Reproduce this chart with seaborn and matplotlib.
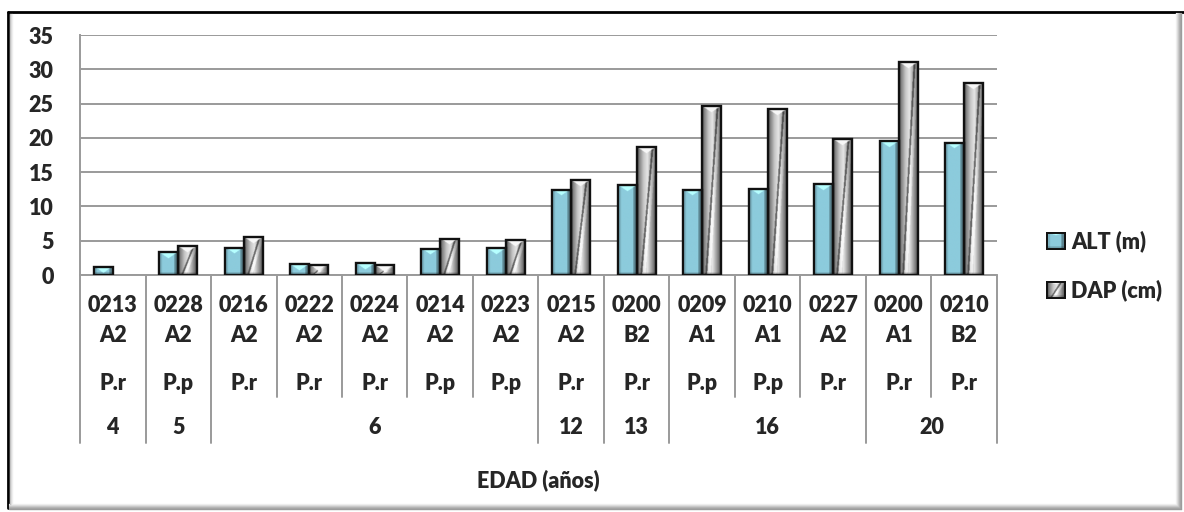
import numpy as np
import pandas as pd
import matplotlib
matplotlib.use("Agg")
import matplotlib.pyplot as plt
import seaborn as sns
from matplotlib.patches import Patch
from matplotlib.lines import Line2D

# --- data -------------------------------------------------------------
arbol = ["0213", "0228", "0216", "0222", "0224", "0214", "0223",
         "0215", "0200", "0209", "0210", "0227", "0200", "0210"]
clase = ["A2", "A2", "A2", "A2", "A2", "A2", "A2",
         "A2", "B2", "A1", "A1", "A2", "A1", "B2"]
especie = ["P.r", "P.p", "P.r", "P.r", "P.r", "P.p", "P.p",
           "P.r", "P.r", "P.p", "P.p", "P.r", "P.r", "P.r"]
edad_grupos = ["4", "5", "6", "12", "13", "16", "20"]
edad_n = [1, 1, 5, 1, 1, 3, 2]
alt_m = [1.2, 3.3, 4.0, 1.6, 1.7, 3.8, 3.9,
         12.4, 13.1, 12.4, 12.6, 13.2, 19.5, 19.3]
dap_cm = [np.nan, 4.2, 5.5, 1.5, 1.4, 5.3, 5.1,
          13.8, 18.6, 24.6, 24.2, 19.8, 31.0, 28.0]
series = ["ALT (m)", "DAP (cm)"]

claves = [f"{a}\n{c}" for a, c in zip(arbol, clase)]
df = pd.DataFrame({
    "clave": claves * 2,
    "serie": [series[0]] * len(claves) + [series[1]] * len(claves),
    "valor": alt_m + dap_cm,
}).dropna()

# --- style ------------------------------------------------------------
sns.set_theme(style="white")
plt.rcParams["font.family"] = ["Lato", "DejaVu Sans"]
FS = 15.5
FW = "heavy"
GRID = "#9a9a9a"

W_PX, H_PX = 1184, 512
fig = plt.figure(figsize=(W_PX / 100, H_PX / 100), dpi=100)
fig.patch.set_facecolor("white")
ax_left, ax_right, ax_top, ax_bot = 80, 997, 35, 275
ax = fig.add_axes([ax_left / W_PX, 1 - ax_bot / H_PX,
                   (ax_right - ax_left) / W_PX, (ax_bot - ax_top) / H_PX])

pal = {series[0]: "#8ccbdc", series[1]: "#9a9a9a"}
sns.barplot(data=df, x="clave", y="valor", hue="serie", order=claves,
            hue_order=series, palette=pal, width=0.58, gap=0,
            edgecolor="#111111", linewidth=1.7, legend=False, ax=ax)

ax.set_xlim(-0.5, len(claves) - 0.5)
ax.set_ylim(0, 35)
ax.set_yticks(range(0, 36, 5))
ax.set_yticklabels([str(v) for v in range(0, 36, 5)], fontsize=FS,
                   fontweight=FW)
ax.tick_params(axis="y", length=0, pad=19)
ax.set_xticks(range(len(claves)))
ax.set_xticklabels([])
ax.tick_params(axis="x", length=0)
ax.set_xlabel("")
ax.set_ylabel("")
ax.yaxis.grid(True, color=GRID, linewidth=1.4)
ax.set_axisbelow(True)
for s in ["top", "right", "bottom"]:
    ax.spines[s].set_visible(False)
ax.spines["left"].set_color(GRID)
ax.spines["left"].set_linewidth(1.4)

px_per_unit = (ax_bot - ax_top) / 35.0
bar_px = 0.29 * (ax_right - ax_left) / len(claves)


def bevel_alt(h, w, bev=12):
    H, W = max(int(h * 2), 4), max(int(w * 2), 4)
    yy, xx = np.mgrid[0:H, 0:W]
    u = (xx + 0.5) / W
    base = np.array([0x8c, 0xcb, 0xdc]) / 255.0
    f = np.ones((H, W))
    f[u < 0.16] = 0.88
    f[u > 0.80] = 0.66
    tri = yy < bev * (1 - np.abs(u - 0.5) * 2.2)
    f[tri] = 1.3
    f[yy > H - 6] *= 0.8
    return np.clip(base[None, None, :] * f[:, :, None], 0, 1)


def bevel_dap(h, w, bev=12):
    H, W = max(int(h * 2), 4), max(int(w * 2), 4)
    yy, xx = np.mgrid[0:H, 0:W]
    u = (xx + 0.5) / W
    v = 1 - yy / max(H - 1, 1)
    g = np.interp(u, [0, 0.12, 0.35, 0.55, 0.8, 1.0],
                  [0.25, 0.50, 0.78, 0.90, 0.58, 0.30])
    d = u - (0.22 + 0.6 * v)
    g = np.where(np.abs(d) < 0.05, g * 0.5, g)
    g = np.where((d > 0.05) & (d < 0.22), np.minimum(g + 0.12, 0.97), g)
    tri = yy < bev * (1 - np.abs(u - 0.5) * 2.2)
    g[tri] = 0.97
    g[yy > H - 6] *= 0.8
    return np.repeat(g[:, :, None], 3, axis=2)


makers = [bevel_alt, bevel_dap]
for k, cont in enumerate(ax.containers):
    for bar in cont:
        x, y0 = bar.get_x(), bar.get_y()
        w, h = bar.get_width(), bar.get_height()
        if not np.isfinite(h) or h <= 0:
            continue
        img = makers[k](h * px_per_unit, bar_px)
        ax.imshow(img, extent=(x, x + w, y0, y0 + h), aspect="auto",
                  origin="upper", interpolation="bilinear", zorder=2.5)
        bar.set_facecolor("none")
        bar.set_zorder(3 + k * 0.1)

ax.set_xlim(-0.5, len(claves) - 0.5)
ax.set_ylim(0, 35)


def ay(ypix):
    return (ax_bot - ypix) / (ax_bot - ax_top)


tr = ax.get_xaxis_transform()
# category levels under the axis
for i in range(len(claves)):
    ax.text(i, ay(306), arbol[i], transform=tr, ha="center", va="center",
            fontsize=FS, fontweight=FW)
    ax.text(i, ay(336), clase[i], transform=tr, ha="center", va="center",
            fontsize=FS, fontweight=FW)
    ax.text(i, ay(383), especie[i], transform=tr, ha="center", va="center",
            fontsize=FS, fontweight=FW)

limites = np.concatenate([[0], np.cumsum(edad_n)])
for j, lab in enumerate(edad_grupos):
    centro = (limites[j] + limites[j + 1] - 1) / 2
    ax.text(centro, ay(428), lab, transform=tr, ha="center", va="center",
            fontsize=FS, fontweight=FW)

grupo_bordes = set(limites.tolist())
for b in range(len(claves) + 1):
    y_end = ay(443) if b in grupo_bordes else ay(397)
    ax.add_line(Line2D([b - 0.5, b - 0.5], [0, y_end], transform=tr,
                       color=GRID, linewidth=1.4, clip_on=False))
ax.add_line(Line2D([0, 1], [0, 0], transform=ax.transAxes, color=GRID,
                   linewidth=1.4, clip_on=False, zorder=2))

fig.text((ax_left + ax_right) / 2 / W_PX, 1 - 480 / H_PX, "EDAD (años)",
         ha="center", va="center", fontsize=FS, fontweight=FW)

# legend
handles = [Patch(facecolor="#7fc1d3", edgecolor="#111111", linewidth=1.4),
           Patch(facecolor="#8a8a8a", edgecolor="#111111", linewidth=1.4)]
leg = ax.legend(handles, series, loc="center left",
                bbox_to_anchor=(1028 / W_PX, 1 - 266 / H_PX),
                bbox_transform=fig.transFigure, frameon=False,
                prop={"size": FS, "weight": FW}, handlelength=0.82,
                handleheight=0.82, handletextpad=0.3, labelspacing=1.26)

# bevelled fill for the legend keys, placed over the drawn key boxes
fig.canvas.draw()
for k, p in enumerate(leg.get_patches()):
    bb = p.get_window_extent()
    kax = fig.add_axes([bb.x0 / W_PX, bb.y0 / H_PX,
                        bb.width / W_PX, bb.height / H_PX], zorder=5)
    kax.imshow(makers[k](bb.height, bb.width, bev=6), aspect="auto",
               interpolation="bilinear")
    kax.set_xticks([])
    kax.set_yticks([])
    for s in kax.spines.values():
        s.set_color("#111111")
        s.set_linewidth(1.4)

# chart frame: dark top/left edges, soft grey shadow on the right/bottom
fig.add_artist(Line2D([8 / W_PX, 1], [1 - 12 / H_PX, 1 - 12 / H_PX],
                      transform=fig.transFigure, color="black", linewidth=2))
fig.add_artist(Line2D([8 / W_PX, 8 / W_PX], [1 - 12 / H_PX, 1 - 508 / H_PX],
                      transform=fig.transFigure, color="black", linewidth=2))
for k, c in enumerate(["#f2f2f2", "#e0e0e0", "#cccccc", "#b8b8b8",
                       "#a8a8a8", "#9c9c9c"]):
    xr = (1176 + k) / W_PX
    yb = 1 - (504 + k) / H_PX
    fig.add_artist(Line2D([xr, xr], [1 - 13 / H_PX, yb],
                          transform=fig.transFigure, color=c, linewidth=1))
    fig.add_artist(Line2D([9 / W_PX, xr], [yb, yb],
                          transform=fig.transFigure, color=c, linewidth=1))
for k, c in enumerate(["#bdbdbd", "#dadada", "#eeeeee"]):
    xl = (10 + k) / W_PX
    fig.add_artist(Line2D([xl, xl], [1 - 14 / H_PX, 1 - 504 / H_PX],
                          transform=fig.transFigure, color=c, linewidth=1))

fig.savefig("out.png", dpi=100, facecolor="white")
